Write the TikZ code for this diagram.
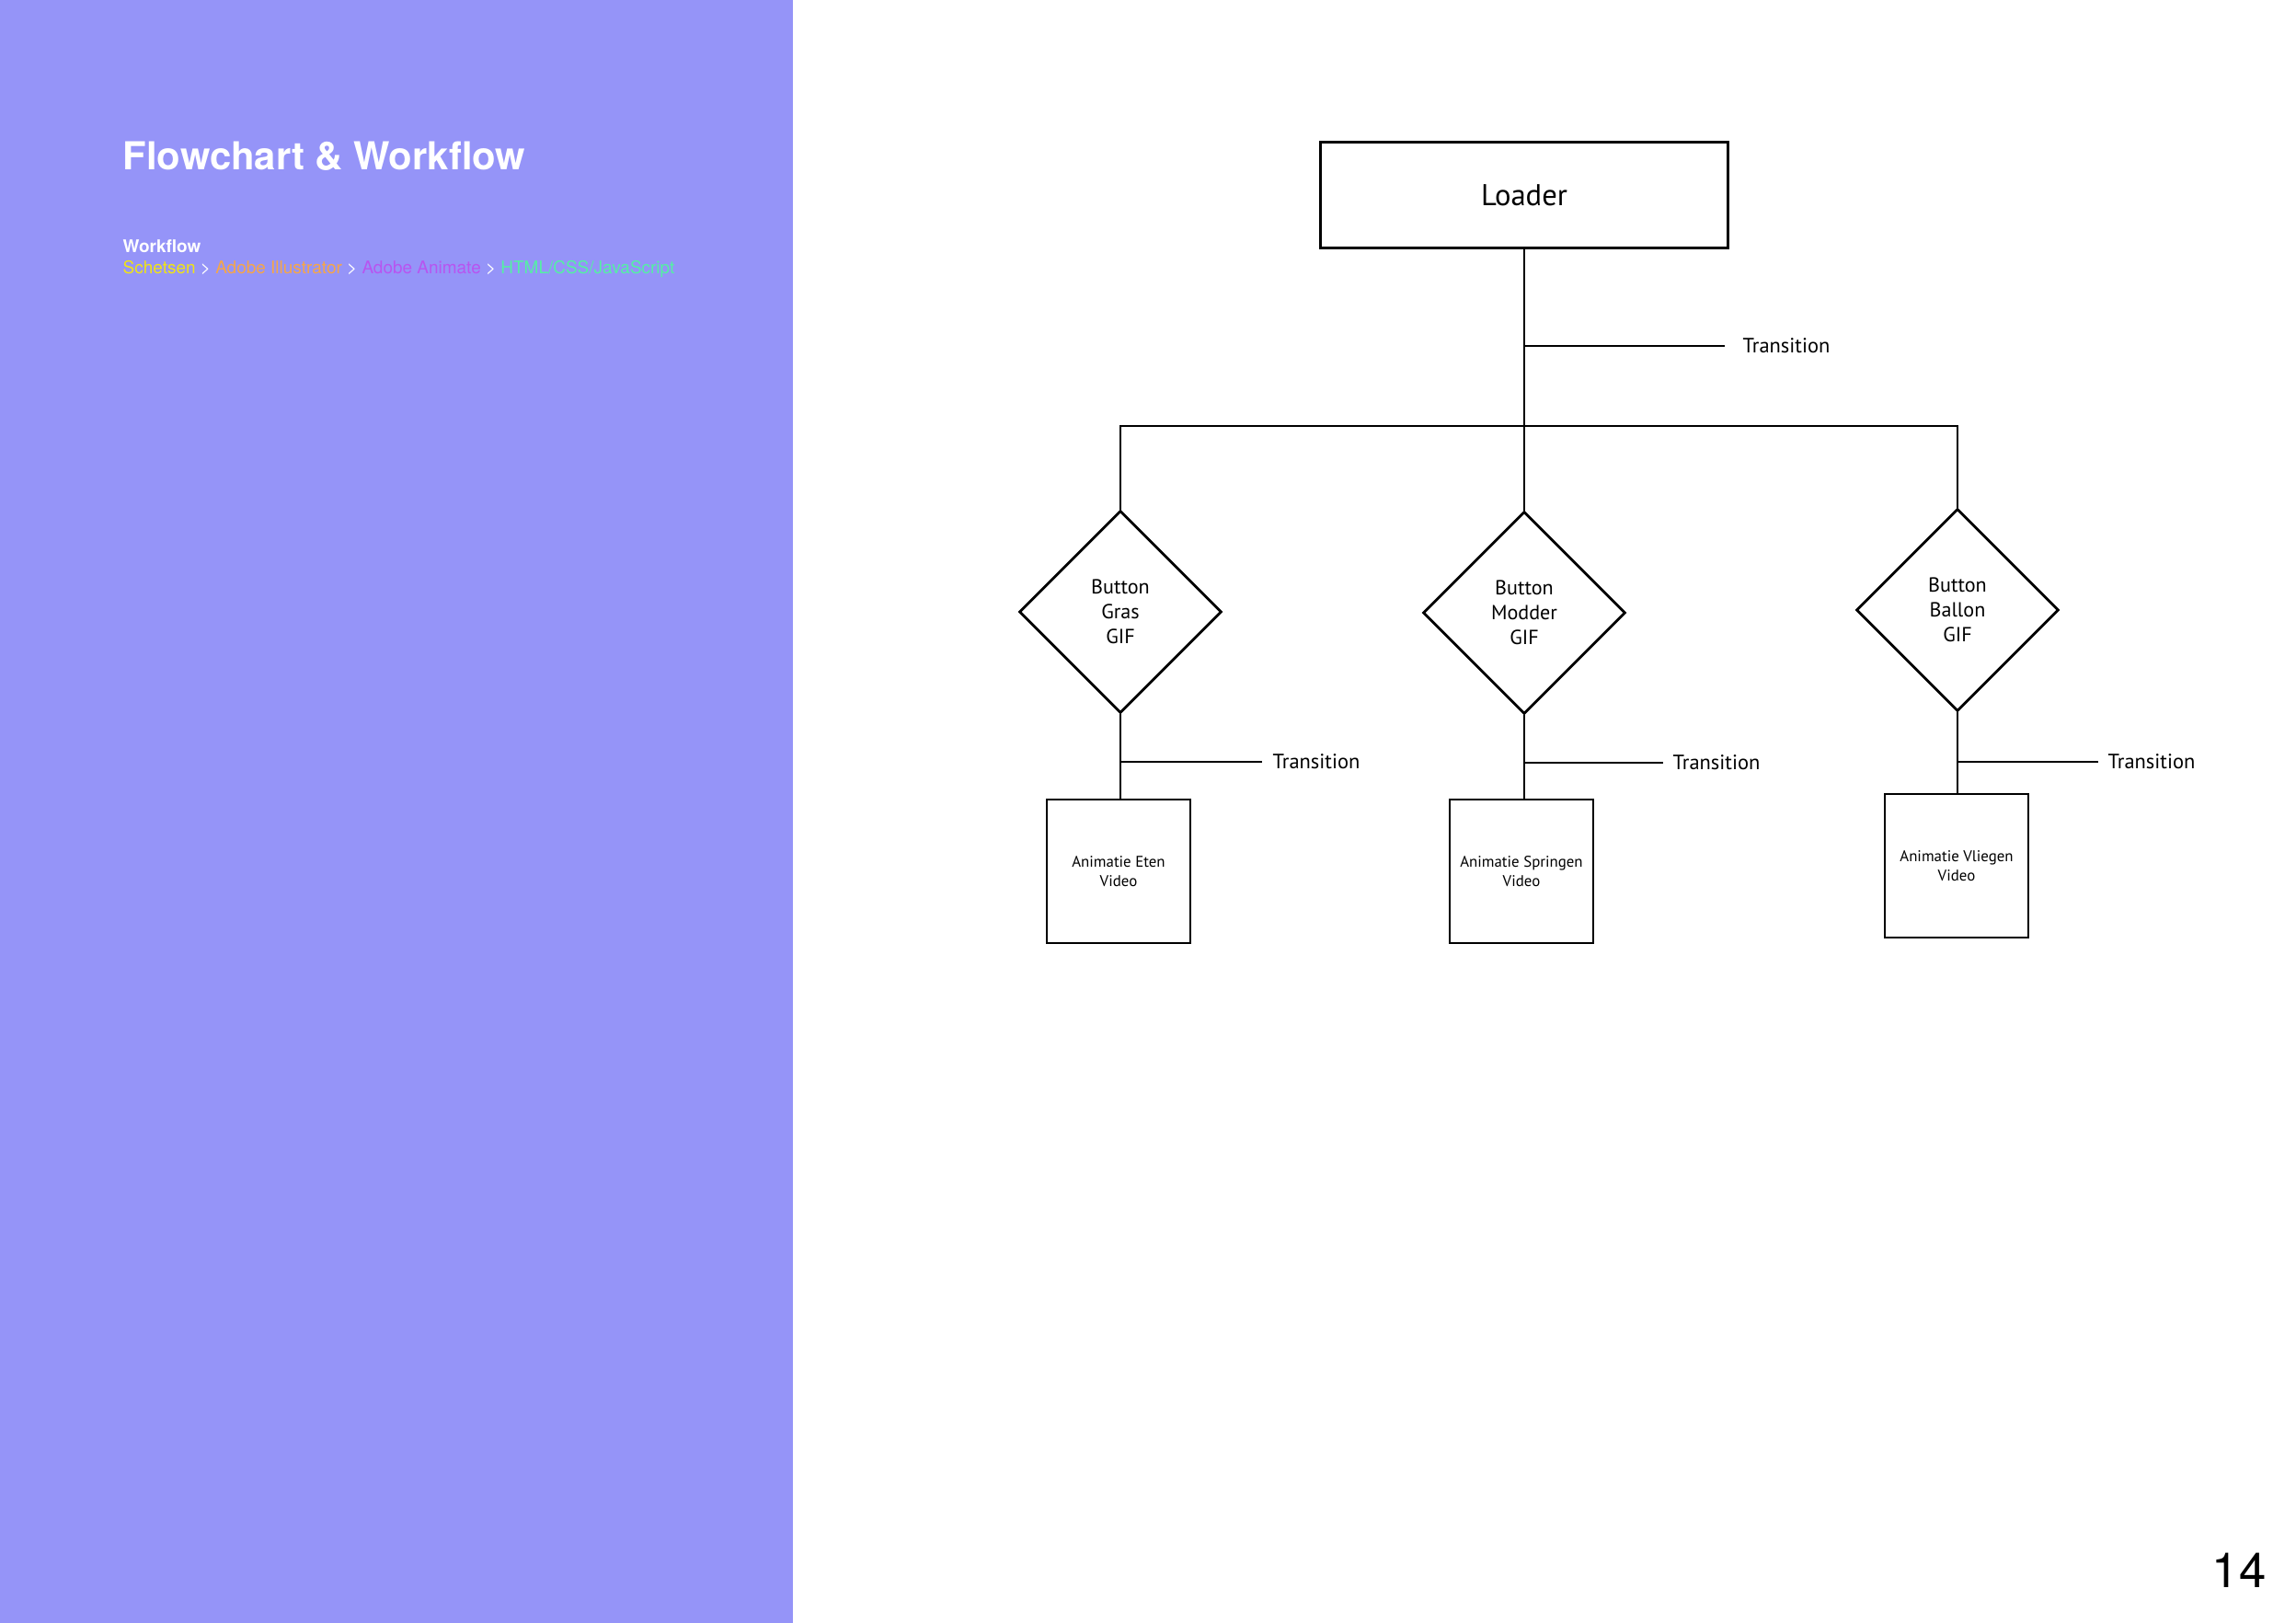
\documentclass[tikz,border=0pt]{standalone}
\usepackage{fontspec}
\setmainfont{TeX Gyre Heros}
\newfontfamily\chartfont{PT Sans}
\usetikzlibrary{shapes.geometric,calc}

\definecolor{panelblue}{RGB}{149,148,248}
\definecolor{schetsyellow}{RGB}{240,228,20}
\definecolor{illuorange}{RGB}{246,166,72}
\definecolor{animpurple}{RGB}{184,84,240}
\definecolor{webgreen}{RGB}{84,240,164}

\tikzset{
  flowline/.style={line width=0.8pt},
  loaderbox/.style={draw, line width=0.8pt, minimum width=4.43cm, minimum height=1.15cm,
    inner sep=0pt, font=\chartfont\fontsize{9.3}{11}\selectfont},
  buttondiamond/.style={diamond, draw, line width=0.8pt, minimum width=2.2cm,
    minimum height=2.2cm, inner sep=0pt, align=center,
    font=\chartfont\fontsize{6.3}{7.7}\selectfont},
  videobox/.style={draw, line width=0.8pt, minimum size=1.56cm, inner sep=0pt,
    align=center, font=\chartfont\fontsize{4.8}{5.9}\selectfont},
  translabel/.style={anchor=west, inner sep=0pt, font=\chartfont\fontsize{6.4}{7.7}\selectfont},
}

\begin{document}
\begin{tikzpicture}
		%----------------------------------------------------
		% Page and left panel
		%----------------------------------------------------
		\useasboundingbox (0,0) rectangle (24.96,-17.64);
		\fill[white] (0,0) rectangle (24.96,-17.64);
		\fill[panelblue] (0,0) rectangle (8.62,-17.64);

		\node[anchor=base west, inner sep=0pt, text=white, font=\bfseries\fontsize{11.9}{14}\selectfont]
			(title) at (1.33,-1.85) {Flowchart \& Workflow};
		\node[anchor=base west, inner sep=0pt, text=white, font=\bfseries\fontsize{5.4}{6.5}\selectfont]
			(wflabel) at (1.33,-2.75) {Workflow};
		\node[anchor=base west, inner sep=0pt, text=white, font=\fontsize{5.4}{6.5}\selectfont]
			(wfsteps) at (1.33,-2.98) {\textcolor{schetsyellow}{Schetsen} >
			\textcolor{illuorange}{Adobe Illustrator} > \textcolor{animpurple}{Adobe Animate}
			> \textcolor{webgreen}{HTML/CSS/JavaScript}};

		\node[anchor=base east, inner sep=0pt, font=\fontsize{15}{18}\selectfont]
			(pagenr) at (24.64,-17.25) {14};

		%----------------------------------------------------
		% Loader and first transition
		%----------------------------------------------------
		\node[loaderbox] (loader) at (16.57,-2.12) {Loader};

		\coordinate (t0) at (loader.south |- 0,-3.76);
		\node[translabel] (t0lab) at (18.94,-3.76) {Transition};
		\draw[flowline] (t0) -- ([xshift=-0.19cm]t0lab.west);

		%----------------------------------------------------
		% Buttons
		%----------------------------------------------------
		\node[buttondiamond] (gras)   at (12.18,-6.65) {Button\\Gras\\GIF};
		\node[buttondiamond] (modder) at (16.57,-6.66) {Button\\Modder\\GIF};
		\node[buttondiamond] (ballon) at (21.28,-6.63) {Button\\Ballon\\GIF};

		\coordinate (fork) at (loader.south |- 0,-4.63);
		\draw[flowline] (loader.south) -- (modder.north);
		\draw[flowline] (gras.north) |- (fork) -| (ballon.north);

		%----------------------------------------------------
		% Videos and their transitions
		%----------------------------------------------------
		\node[videobox] (grasvid)   at (12.16,-9.47) {Animatie Eten\\Video};
		\node[videobox] (moddervid) at (16.54,-9.47) {Animatie Springen\\Video};
		\node[videobox] (ballonvid) at (21.27,-9.41) {Animatie Vliegen\\Video};

		\draw[flowline] (gras.south) -- (gras.south |- grasvid.north);
		\draw[flowline] (modder.south) -- (modder.south |- moddervid.north);
		\draw[flowline] (ballon.south) -- (ballon.south |- ballonvid.north);

		\coordinate (t1) at (gras.south |- 0,-8.28);
		\coordinate (t2) at (modder.south |- 0,-8.29);
		\coordinate (t3) at (ballon.south |- 0,-8.28);
		\node[translabel] (t1lab) at (13.83,-8.28) {Transition};
		\node[translabel] (t2lab) at (18.18,-8.29) {Transition};
		\node[translabel] (t3lab) at (22.91,-8.28) {Transition};
		\draw[flowline] (t1) -- ([xshift=-0.11cm]t1lab.west);
		\draw[flowline] (t2) -- ([xshift=-0.10cm]t2lab.west);
		\draw[flowline] (t3) -- ([xshift=-0.10cm]t3lab.west);

	\end{tikzpicture}
\end{document}
